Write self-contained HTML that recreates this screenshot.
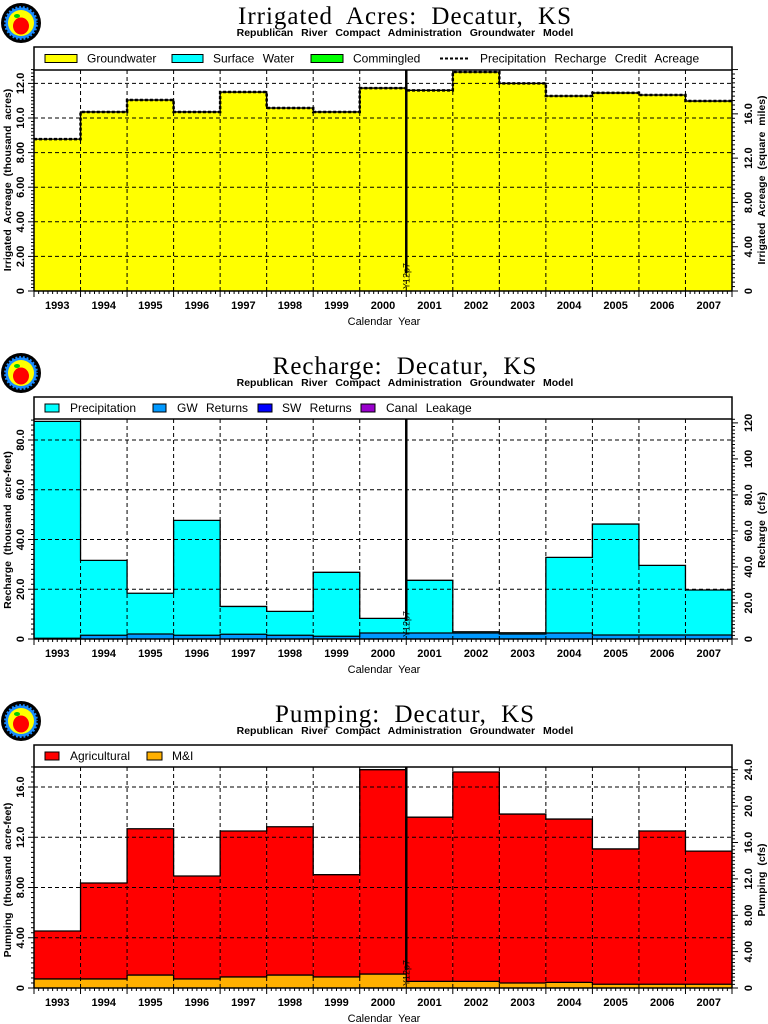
<!DOCTYPE html>
<html><head><meta charset="utf-8"><style>
html,body{margin:0;padding:0;background:#fff;}
svg{display:block;}
text{font-family:"Liberation Sans",sans-serif;}
</style></head><body>
<svg id="s" width="768" height="1024" xmlns="http://www.w3.org/2000/svg">
<rect width="768" height="1024" fill="#fff"/>
</svg>
<script>
const S=document.getElementById('s');
let h='';
const X0=34,X1=732,W=(X1-X0)/15;
const years=[1993,1994,1995,1996,1997,1998,1999,2000,2001,2002,2003,2004,2005,2006,2007];
function logo(y){
 h+=`<circle cx="21" cy="${y+21}" r="20" fill="#000"/><circle cx="21" cy="${y+21}" r="17" fill="#1a8cff" stroke="#000" stroke-dasharray="2 2" stroke-width="3"/><circle cx="21" cy="${y+21}" r="13" fill="#ffff00"/><ellipse cx="21" cy="${y+24}" rx="8" ry="8.5" fill="#ff0000"/><ellipse cx="17" cy="${y+14}" rx="3" ry="2" fill="#00cc00"/>`;
}
function panel(o){
 const yb=o.bot, k=o.k;
 const Y=v=>yb-v*k;
 logo(o.top-45);
 h+=`<text x="405" y="${o.top-23}" text-anchor="middle" font-size="25" letter-spacing="1" word-spacing="7" style="font-family:'Liberation Serif',serif">${o.title}</text>`;
 h+=`<text x="405" y="${o.top-11}" text-anchor="middle" font-size="10.5" font-weight="bold" word-spacing="5">Republican River Compact Administration Groundwater Model</text>`;
 h+=`<rect x="${X0}" y="${o.top}" width="${X1-X0}" height="${o.ptop-o.top}" fill="#fff" stroke="#000" stroke-width="1.5"/>`;
 const ly=(o.top+o.ptop)/2;
 o.leg.forEach(l=>{
  if(l.dash) h+=`<line x1="${l.bx}" x2="${l.bx2}" y1="${ly}" y2="${ly}" stroke="#000" stroke-width="2" stroke-dasharray="3 2"/>`;
  else h+=`<rect x="${l.bx}" y="${ly-4}" width="${l.bx2-l.bx}" height="8" fill="${l.c}" stroke="#000"/>`;
  h+=`<text x="${l.tx}" y="${ly+4}" font-size="12" word-spacing="5">${l.t}</text>`;
 });
 o.series.forEach(s=>{
  s.v.forEach((v,i)=>{h+=`<rect x="${X0+i*W}" y="${Y(v)}" width="${W}" height="${Y(0)-Y(v)}" fill="${s.c}"/>`;});
 });
 o.series.forEach(s=>{
  let d='';s.v.forEach((v,i)=>{d+=(i?'L':'M')+(X0+i*W)+' '+Y(v)+'L'+(X0+(i+1)*W)+' '+Y(v);});
  h+=`<path d="${d}" fill="none" stroke="#000" stroke-width="1.3"/>`;
 });
 if(o.dashTop){let d='';o.dashTop.forEach((v,i)=>{d+=(i?'L':'M')+(X0+i*W)+' '+Y(v)+'L'+(X0+(i+1)*W)+' '+Y(v);});h+=`<path d="${d}" fill="none" stroke="#000" stroke-width="2.5" stroke-dasharray="3 2"/>`;}
 for(let i=1;i<15;i++){const x=X0+i*W;h+=`<line x1="${x}" x2="${x}" y1="${o.ptop}" y2="${yb}" stroke="#000" stroke-dasharray="4 3"/>`;}
 o.ticks.forEach(t=>{if(t>0)h+=`<line x1="${X0}" x2="${X1}" y1="${Y(t)}" y2="${Y(t)}" stroke="#000" stroke-dasharray="4 3"/>`;});
 h+=`<line x1="${X0}" x2="${X0}" y1="${o.ptop}" y2="${yb}" stroke="#000" stroke-width="1.5"/><line x1="${X1}" x2="${X1}" y1="${o.ptop}" y2="${yb}" stroke="#000" stroke-width="1.5"/><line x1="${X0}" x2="${X1}" y1="${yb}" y2="${yb}" stroke="#000" stroke-width="1.5"/>`;
 const ms=o.ticks[1]/10;
 for(let v=0;Y(v)>=o.ptop-0.5;v+=ms){const big=Math.abs(v/o.ticks[1]-Math.round(v/o.ticks[1]))<1e-6;h+=`<line x1="${X0-(big?6:3)}" x2="${X0}" y1="${Y(v)}" y2="${Y(v)}" stroke="#000"/>`;}
 const rk=o.rk; const rms=o.rt[1]/10;
 for(let v=0;yb-v*rk>=o.ptop-0.5;v+=rms){const big=Math.abs(v/o.rt[1]-Math.round(v/o.rt[1]))<1e-6;const yy=yb-v*rk;h+=`<line x1="${X1}" x2="${X1+(big?6:3)}" y1="${yy}" y2="${yy}" stroke="#000"/>`;}
 for(let i=0;i<=150;i++){const x=X0+i*W/10;const big=i%10==0;h+=`<line x1="${x}" x2="${x}" y1="${yb}" y2="${yb+(big?6:3)}" stroke="#000"/>`;}
 o.ticks.forEach((t,i)=>{h+=`<text transform="translate(24,${Y(t)}) rotate(-90)" text-anchor="middle" font-size="11" font-weight="bold">${o.tl[i]}</text>`;});
 o.rt.forEach((t,i)=>{h+=`<text transform="translate(752,${yb-t*rk}) rotate(-90)" text-anchor="middle" font-size="11" font-weight="bold">${o.rtl[i]}</text>`;});
 h+=`<text transform="translate(11,${o.lyc}) rotate(-90)" text-anchor="middle" font-size="10.5" font-weight="bold" word-spacing="3">${o.ylab}</text>`;
 h+=`<text transform="translate(765,${o.ryc}) rotate(-90)" text-anchor="middle" font-size="10.5" font-weight="bold" word-spacing="3">${o.rlab}</text>`;
 years.forEach((y,i)=>{h+=`<text x="${X0+(i+0.5)*W}" y="${yb+18}" text-anchor="middle" font-size="11" font-weight="bold">${y}</text>`;});
 h+=`<text x="384" y="${yb+34}" text-anchor="middle" font-size="11" word-spacing="3">Calendar Year</text>`;
 const xv=X0+8*W;
 h+=`<line x1="${xv}" x2="${xv}" y1="${o.ptop}" y2="${yb-18}" stroke="#000" stroke-width="2.5"/><text transform="translate(${xv+3},${yb-2}) rotate(-90)" font-size="9">Y12p7</text>`;
}
panel({title:"Irrigated Acres: Decatur, KS",top:47,ptop:70,bot:291,k:17.3,
 leg:[{bx:45,bx2:77,c:"#ffff00",tx:87,t:"Groundwater"},{bx:172,bx2:203,c:"#00ffff",tx:213,t:"Surface Water"},{bx:311,bx2:343,c:"#00ff00",tx:353,t:"Commingled"},{dash:1,bx:440,bx2:470,tx:480,t:"Precipitation Recharge Credit Acreage"}],
 series:[{c:"#ffff00",v:[8.78,10.35,11.04,10.35,11.5,10.58,10.35,11.73,11.6,12.66,12.0,11.27,11.45,11.33,10.98]}],
 dashTop:[8.78,10.35,11.04,10.35,11.5,10.58,10.35,11.73,11.6,12.66,12.0,11.27,11.45,11.33,10.98],
 ticks:[0,2,4,6,8,10,12],tl:["0","2.00","4.00","6.00","8.00","10.0","12.0"],
 rk:17.3*0.64,rt:[0,4,8,12,16],rtl:["0","4.00","8.00","12.0","16.0"],
 ylab:"Irrigated Acreage (thousand acres)",lyc:180,rlab:"Irrigated Acreage (square miles)",ryc:180});
panel({title:"Recharge: Decatur, KS",top:397,ptop:419,bot:639,k:2.4875,
 leg:[{bx:45,bx2:59,c:"#00ffff",tx:70,t:"Precipitation"},{bx:153,bx2:166,c:"#0099ff",tx:177,t:"GW Returns"},{bx:258,bx2:272,c:"#0000ff",tx:282,t:"SW Returns"},{bx:361,bx2:375,c:"#9900cc",tx:386,t:"Canal Leakage"}],
 series:[{c:"#00ffff",v:[87.5,31.6,18.4,47.7,13.1,11.1,26.8,8.3,23.6,2.9,2.5,32.8,46.2,29.6,19.7]},{c:"#0099ff",v:[0.3,1.5,2.0,1.5,1.9,1.5,1.1,2.4,2.4,2.4,2.0,2.4,1.6,1.6,1.6]}],
 ticks:[0,20,40,60,80],tl:["0","20.0","40.0","60.0","80.0"],
 rk:2.4875*0.724,rt:[0,20,40,60,80,100,120],rtl:["0","20.0","40.0","60.0","80.0","100","120"],
 ylab:"Recharge (thousand acre-feet)",lyc:530,rlab:"Recharge (cfs)",ryc:530});
panel({title:"Pumping: Decatur, KS",top:745,ptop:767,bot:988,k:12.56,
 leg:[{bx:45,bx2:59,c:"#ff0000",tx:70,t:"Agricultural"},{bx:147,bx2:162,c:"#ffb000",tx:172,t:"M&amp;I"}],
 series:[{c:"#ff0000",v:[4.54,8.36,12.68,8.92,12.5,12.84,9.02,17.38,13.6,17.2,13.85,13.45,11.07,12.5,10.9]},{c:"#ffb000",v:[0.72,0.72,1.03,0.72,0.88,1.03,0.88,1.11,0.53,0.53,0.4,0.45,0.3,0.3,0.3]}],
 ticks:[0,4,8,12,16],tl:["0","4.00","8.00","12.0","16.0"],
 rk:12.56*0.724,rt:[0,4,8,12,16,20,24],rtl:["0","4.00","8.00","12.0","16.0","20.0","24.0"],
 ylab:"Pumping (thousand acre-feet)",lyc:880,rlab:"Pumping (cfs)",ryc:880});
S.insertAdjacentHTML('beforeend',h);
</script>
</body></html>
